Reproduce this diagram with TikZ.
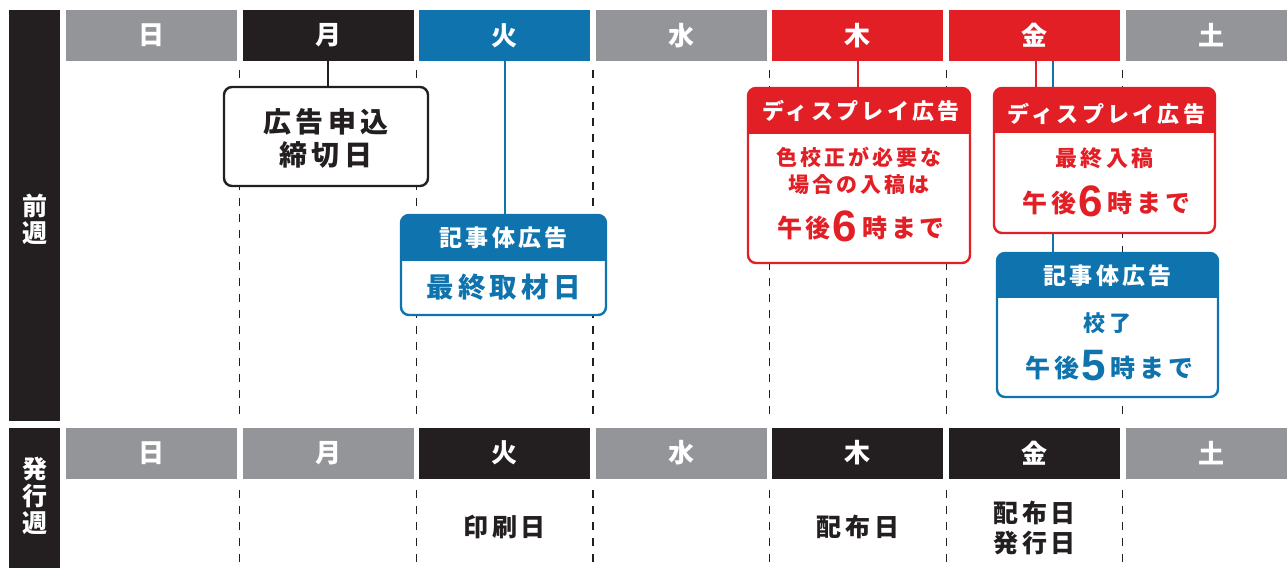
\documentclass[tikz,border=0pt]{standalone}
\usepackage{fontspec}
\setmainfont{Noto Sans CJK JP}[LetterSpace=15]
\newfontfamily\hv{Liberation Sans}
\usetikzlibrary{calc}
\definecolor{cgray}{HTML}{939598}
\definecolor{cblack}{HTML}{231F20}
\definecolor{cblue}{HTML}{0F73AE}
\definecolor{cred}{HTML}{E31F26}
\newcommand\fs[1]{\fontsize{#1}{#1}\selectfont}
\newcommand\bignum[2]{\hspace{2pt}\raisebox{-3.5pt}{\hv\bfseries\fs{#1}#2}\hspace{5pt}}
\tikzset{
  hdr/.style={rectangle, minimum width=171pt, minimum height=51pt, inner sep=0pt, outer sep=0pt, text=white, font=\bfseries\fs{26}},
  side/.style={rectangle, fill=cblack, minimum width=51pt, inner sep=0pt, outer sep=0pt},
  sidetxt/.style={text=white, font=\bfseries\fs{25}, align=center, inner sep=0pt},
  dline/.style={cblack, line width=1.2pt, dash pattern=on 8pt off 8pt},
  conn/.style={line width=2.4pt},
  box/.style={rectangle, rounded corners=8pt, line width=2.4pt, fill=white, inner sep=0pt, outer sep=0pt},
  txt/.style={inner sep=0pt, font=\bfseries},
}
\begin{document}
\begin{tikzpicture}[x=1pt,y=-1pt]
\useasboundingbox (0,0) rectangle (1287,568);
% side columns
\node[side, minimum height=411pt] (s1) at (34.5,215.5) {};
\node[side, minimum height=140pt] (s2) at (34.5,498) {};
\node[sidetxt] (s1t) at (34.5,219) {前\\[2pt]週};
\node[sidetxt] (s2t) at (34.5,496) {発\\[2pt]行\\[2pt]週};
% dashed lines
\foreach \x in {239.8,416.4,593,769.6,946.2,1122.8}{
  \draw[dline] (\x,70) -- (\x,421);
  \draw[dline] (\x,490) -- (\x,568);
}
% top headers
\node[hdr, fill=cgray]  (h1) at (151.5,35.5) {日};
\node[hdr, fill=cblack] (h2) at (328.1,35.5) {月};
\node[hdr, fill=cblue]  (h3) at (504.7,35.5) {火};
\node[hdr, fill=cgray]  (h4) at (681.3,35.5) {水};
\node[hdr, fill=cred]   (h5) at (857.9,35.5) {木};
\node[hdr, fill=cred]   (h6) at (1034.5,35.5) {金};
\node[hdr, fill=cgray]  (h7) at (1211.1,35.5) {土};
% bottom headers
\node[hdr, fill=cgray]  (b1) at (151.5,453) {日};
\node[hdr, fill=cgray]  (b2) at (328.1,453) {月};
\node[hdr, fill=cblack] (b3) at (504.7,453) {火};
\node[hdr, fill=cgray]  (b4) at (681.3,453) {水};
\node[hdr, fill=cblack] (b5) at (857.9,453) {木};
\node[hdr, fill=cblack] (b6) at (1034.5,453) {金};
\node[hdr, fill=cgray]  (b7) at (1211.1,453) {土};
% bottom texts
\node[txt, text=cblack, font=\bfseries\fs{25}] (p1) at (504.7,527) {印刷日};
\node[txt, text=cblack, font=\bfseries\fs{25}] (p2) at (857.9,527) {配布日};
\node[txt, text=cblack, font=\bfseries\fs{25}, align=center] (p3) at (1034.5,528) {配布日\\[5pt]発行日};

% box A (Mon)
\node[box, draw=cblack, minimum width=204pt, minimum height=99pt] (A) at (326,136.5) {};
\draw[conn, cblack] (h2.south) -- (h2.south |- A.north);
\node[txt, text=cblack, font=\bfseries\fs{28}, align=center] (At) at (326,138.5) {広告申込\\[5pt]締切日};

% box B (Tue)
\node[box, draw=cblue, minimum width=205pt, minimum height=100pt] (B) at (503.5,265) {};
\draw[conn, cblue] (h3.south) -- (h3.south |- B.north);
\begin{scope}
\clip (B.north west) rectangle ([yshift=-45pt]B.north east);
\fill[cblue, rounded corners=8pt] (B.north west) rectangle (B.south east);
\end{scope}
\node[txt, text=white, font=\bfseries\fs{23}] (Bh) at (503.5,238) {記事体広告};
\node[txt, text=cblue, font=\bfseries\fs{27.5}] (B1) at (503.5,287.5) {最終取材日};

% box C (Thu)
\node[box, draw=cred, minimum width=222pt, minimum height=175pt] (C) at (859,175.5) {};
\draw[conn, cred] (h5.south) -- (h5.south |- C.north);
\begin{scope}
\clip (C.north west) rectangle ([yshift=-45pt]C.north east);
\fill[cred, rounded corners=8pt] (C.north west) rectangle (C.south east);
\end{scope}
\node[txt, text=white, font=\bfseries\fs{22}] (Ch) at (861,111) {ディスプレイ広告};
\node[txt, text=cred, font=\bfseries\fs{21}] (C1) at (859,157) {色校正が必要な};
\node[txt, text=cred, font=\bfseries\fs{21}] (C2) at (859,185) {場合の入稿は};
\node[txt, text=cred, font=\bfseries\fs{25}] (C3) at (861,226) {午後\bignum{44}{6}時まで};

% Fri: blue connector first
\node[box, draw=cblue, minimum width=221pt, minimum height=144pt] (E) at (1107.5,325) {};
\draw[conn, cblue] ([xshift=18.5pt]h6.south) -- ([xshift=18.5pt]h6.south |- E.north);
\begin{scope}
\clip (E.north west) rectangle ([yshift=-44pt]E.north east);
\fill[cblue, rounded corners=8pt] (E.north west) rectangle (E.south east);
\end{scope}
\node[txt, text=white, font=\bfseries\fs{23}] (Eh) at (1107.5,276) {記事体広告};
\node[txt, text=cblue, font=\bfseries\fs{22}] (E1) at (1107.5,323) {校了};
\node[txt, text=cblue, font=\bfseries\fs{25}] (E2) at (1109.5,366) {午後\bignum{44}{5}時まで};

% box D (Fri red)
\node[box, draw=cred, minimum width=221pt, minimum height=145pt] (D) at (1104.5,160.5) {};
\draw[conn, cred] ([xshift=1.5pt]h6.south) -- ([xshift=1.5pt]h6.south |- D.north);
\begin{scope}
\clip (D.north west) rectangle ([yshift=-44pt]D.north east);
\fill[cred, rounded corners=8pt] (D.north west) rectangle (D.south east);
\end{scope}
\node[txt, text=white, font=\bfseries\fs{22}] (Dh) at (1106.5,114) {ディスプレイ広告};
\node[txt, text=cred, font=\bfseries\fs{22}] (D1) at (1104.5,158) {最終入稿};
\node[txt, text=cred, font=\bfseries\fs{25}] (D2) at (1106.5,201) {午後\bignum{44}{6}時まで};
\end{tikzpicture}
\end{document}
